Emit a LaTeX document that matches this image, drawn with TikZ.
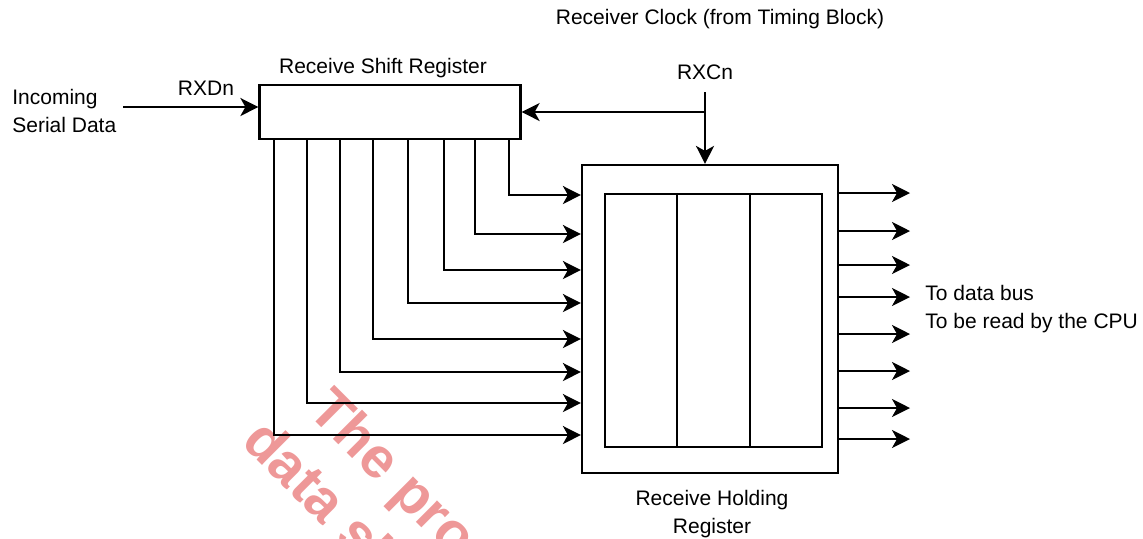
\documentclass[tikz,border=0pt]{standalone}
\usepackage{fontspec}
\setmainfont{Liberation Sans}
\usetikzlibrary{arrows.meta, calc, positioning}
\definecolor{stampred}{RGB}{238,152,152}

\tikzset{
  regbox/.style={draw, line width=1.1pt, inner sep=0pt},
  wire/.style={line width=1.1pt},
  sig/.style={line width=1.1pt, -{Stealth[length=9pt, width=9pt, inset=2.5pt]}},
  lbl/.style={font=\fontsize{10.5}{14}\selectfont, inner sep=0pt},
  stamp/.style={font=\fontsize{28.5}{34}\selectfont\bfseries, text=stampred,
    rotate=-45, anchor=base west, inner sep=0pt},
}

\begin{document}
\begin{tikzpicture}[x=0.5pt, y=-0.5pt]
    \useasboundingbox (0,0) rectangle (1143,538);

    % Watermark
    \begin{scope}
        \clip (0,0) rectangle (1143,538);
        \node[stamp] (wm1) at (306,412) {The product};
        \node[stamp] (wm2) at (240,443) {data sheet};
    \end{scope}

    % Receive shift register
    \node[regbox, minimum width=130.5pt, minimum height=27pt] (sr) at (390,112) {};
    \node[lbl, above=3pt of sr, xshift=-3.5pt] (srl) {Receive Shift Register};

    % Receive holding register
    \node[regbox, minimum width=128pt, minimum height=154pt] (hr) at (710,319) {};
    \node[regbox, minimum width=108.5pt, minimum height=126.5pt] (hri) at (713.5,320.5) {};
    \foreach \f in {1,2}
        \draw[wire] ($(hri.north west)!\f/3!(hri.north east)$) -- ($(hri.south west)!\f/3!(hri.south east)$);
    \node[lbl, align=center, below=8pt of hr, xshift=1pt] (hrl) {Receive Holding\\Register};

    % Incoming data
    \node[lbl, align=left, anchor=north west] (inc) at (12,89) {Incoming\\Serial Data};
    \coordinate (rxd) at (123,107);
    \draw[sig] (rxd) -- (rxd -| sr.west);
    \node[lbl, anchor=base] (rxdl) at (206,95) {RXDn};

    % Receiver clock
    \node[lbl, anchor=base] (clkl) at (720,24) {Receiver Clock (from Timing Block)};
    \node[lbl, anchor=base] (rxcl) at (705,79) {RXCn};
    \coordinate (clk) at (705,92);
    \coordinate (clkj) at (705,112);
    \draw[sig] (clk) -- (clk |- hr.north);
    \draw[sig] (clkj) -- (clkj -| sr.east);

    % Parallel load lines
    \foreach \tx/\ty in {509/195, 475/234, 444/270, 408/303, 373/339, 340/372, 307/403, 274/435}
        \draw[sig] (sr.south -| \tx,0) |- (hr.west |- 0,\ty);

    % Outputs to data bus
    \coordinate (bus) at (910,0);
    \foreach \oy in {193, 231, 265, 297, 334, 371, 408, 439}
        \draw[sig] (hr.east |- 0,\oy) -- (bus |- 0,\oy);
    \node[lbl, align=left, anchor=north west] (busl) at (925,285) {To data bus\\To be read by the CPU};
\end{tikzpicture}
\end{document}
